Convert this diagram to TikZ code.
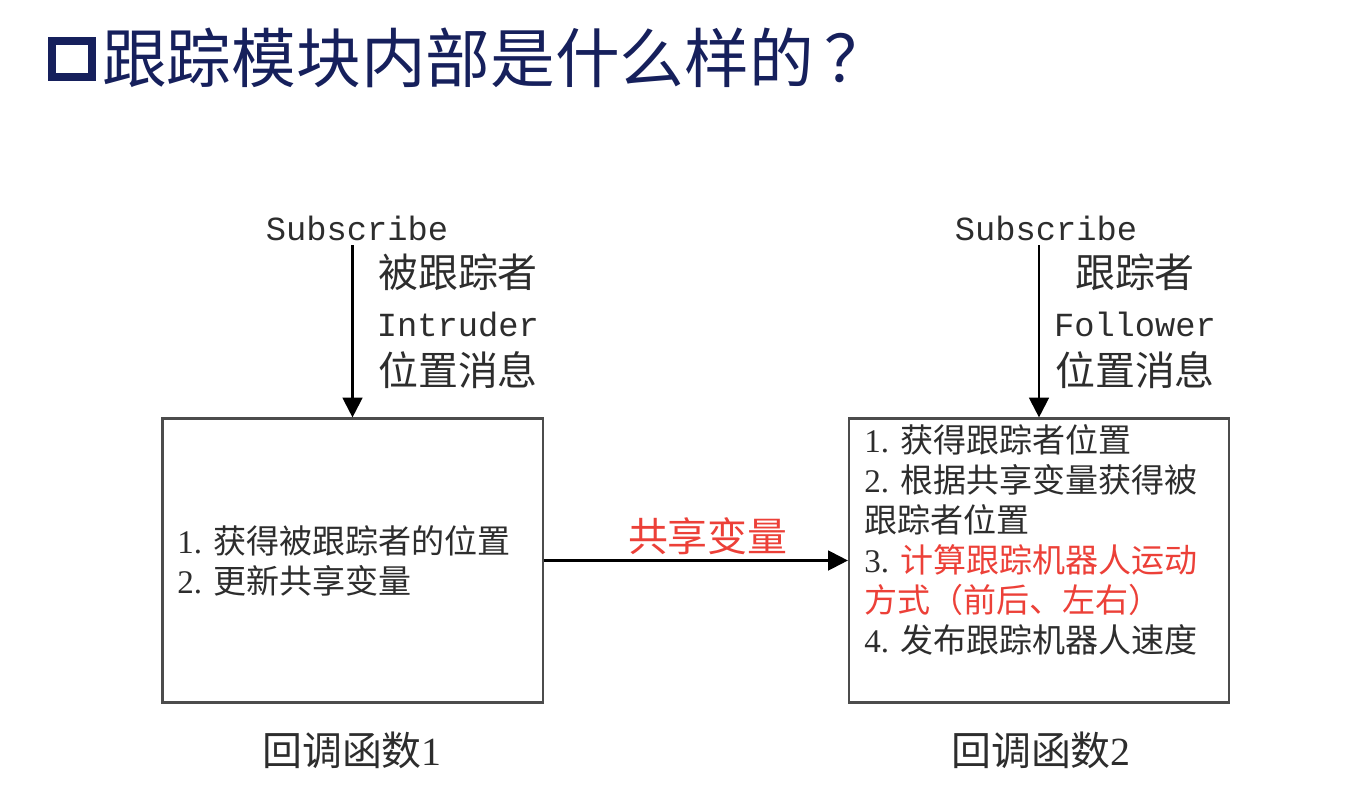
\documentclass[tikz,border=0pt]{standalone}
\usepackage{fontspec}
\setmainfont{Noto Sans CJK SC}
\setmonofont{Liberation Mono}
\newfontfamily\numfont{Liberation Serif}
\usetikzlibrary{arrows.meta}
\definecolor{titleblue}{RGB}{22,32,92}
\definecolor{txtred}{RGB}{236,64,56}
\definecolor{txtgray}{RGB}{45,45,45}

\begin{document}
\begin{tikzpicture}[x=0.025cm,y=-0.025cm,
  box/.style={draw,gray!60!black,line width=1.5pt,minimum width=9.5cm,minimum height=7.1cm},
  msg/.style={txtgray,align=center,font=\fontsize{28.4}{35}\selectfont},
  item/.style={txtgray,align=left,anchor=west,inner sep=0pt,font=\fontsize{23.5}{28.4}\selectfont},
  sub/.style={txtgray,font=\ttfamily\fontsize{24}{28}\selectfont},
  captext/.style={txtgray,font=\fontsize{28.4}{34}\selectfont},
  arr/.style={-{Triangle[length=14pt,width=14pt]},line width=1.6pt}]
\useasboundingbox (0,0) rectangle (1368,784);

\node (T0) at (72,59) [draw,titleblue,line width=5pt,minimum width=1cm,minimum height=0.9cm] {}; \node (T) at (102,58) [anchor=west,inner sep=0pt,titleblue,font=\fontsize{46}{50}\selectfont] {跟踪模块内部是什么样的\,？};

\node (A) at (352.5,560.5) [box] {}; \node (B) at (1039,560.5) [box] {};

\node (S1) at (357,228) [sub] {Subscribe}; \node (S2) at (1046,228) [sub] {Subscribe};

\node (L1) at (458,321) [msg] {被跟踪者\\{\ttfamily\fontsize{24}{28}\selectfont Intruder}\\位置消息}; \node (L2) at (1135,321) [msg] {跟踪者\\{\ttfamily\fontsize{24}{28}\selectfont Follower}\\位置消息};

\node (A1) at (177,560.5) [item] {{\numfont 1. }获得被跟踪者的位置\\{\numfont 2. }更新共享变量};

\node (B1) at (864,540) [item] {{\numfont 1. }获得跟踪者位置\\{\numfont 2. }根据共享变量获得被\\跟踪者位置\\{\numfont 3. }{\color{txtred}计算跟踪机器人运动}\\{\color{txtred}方式（前后、左右）}\\{\numfont 4. }发布跟踪机器人速度};

\node (C1) at (352,750) [captext] {回调函数{\numfont 1}}; \node (C2) at (1041,750) [captext] {回调函数{\numfont 2}};

\draw[arr] (A.north |- S1.south) -- (A.north);
\draw[arr] (B.north |- S2.south) -- (B.north);
\draw[arr] (A.east) -- node[above,pos=0.54,txtred,font=\fontsize{28.4}{34}\selectfont] (V) {共享变量} (B.west);

\end{tikzpicture}
\end{document}
